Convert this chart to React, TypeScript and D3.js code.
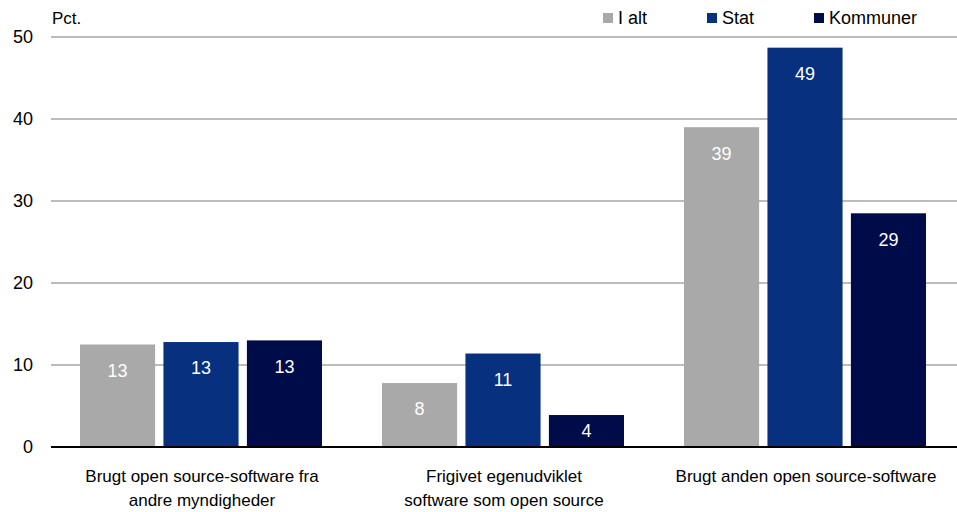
import React, { useEffect, useRef } from 'react';
import * as d3 from 'd3';

// Chart data
const categories = [
  ['Brugt open source-software fra', 'andre myndigheder'],
  ['Frigivet egenudviklet', 'software som open source'],
  ['Brugt anden open source-software'],
];
const seriesNames = ['I alt', 'Stat', 'Kommuner'];
const iAlt = [12.5, 7.8, 39.0];
const stat = [12.8, 11.4, 48.7];
const kommuner = [13.0, 3.9, 28.5];
const yTicks = [0, 10, 20, 30, 40, 50];
const colors = ['#A9A9A9', '#07307F', '#000C4A'];

const W = 957;
const H = 512;
const FONT = '"Liberation Sans", Arial, sans-serif';

const App = () => {
  const ref = useRef<SVGSVGElement | null>(null);

  useEffect(() => {
    if (!ref.current) return;
    const svg = d3.select(ref.current);
    svg.selectAll('*').remove();

    const margin = { top: 37, right: 0, bottom: 65, left: 51 };
    const x0 = d3.scaleBand<number>()
      .domain(d3.range(categories.length))
      .range([margin.left, W - margin.right]);
    const x1 = d3.scaleBand<number>()
      .domain(d3.range(seriesNames.length))
      .range([29, x0.bandwidth() - 31])
      .paddingInner(0.1);
    const y = d3.scaleLinear().domain([0, 50]).range([H - margin.bottom, margin.top]);

    // gridlines
    svg.append('g')
      .selectAll('line')
      .data(yTicks.filter(t => t > 0))
      .join('line')
      .attr('x1', margin.left)
      .attr('x2', W)
      .attr('y1', d => y(d))
      .attr('y2', d => y(d))
      .attr('stroke', '#A6A6A6')
      .attr('stroke-width', 1.5);

    // y tick labels
    svg.append('g')
      .selectAll('text')
      .data(yTicks)
      .join('text')
      .attr('x', 33)
      .attr('y', d => y(d))
      .attr('dy', '0.35em')
      .attr('text-anchor', 'end')
      .attr('font-size', 18)
      .attr('fill', '#000')
      .text(d => d);

    svg.append('text')
      .attr('x', 52)
      .attr('y', 24)
      .attr('font-size', 17)
      .text('Pct.');

    const series = [iAlt, stat, kommuner];
    const base = y(0);

    series.forEach((vals, si) => {
      const g = svg.append('g');
      g.selectAll('rect')
        .data(vals)
        .join('rect')
        .attr('x', (_, i) => x0(i)! + x1(si)!)
        .attr('y', d => y(d))
        .attr('width', x1.bandwidth())
        .attr('height', d => base - y(d))
        .attr('fill', colors[si]);
      g.selectAll('text')
        .data(vals)
        .join('text')
        .attr('x', (_, i) => x0(i)! + x1(si)! + x1.bandwidth() / 2)
        .attr('y', d => Math.min(y(d) + 26, (y(d) + base) / 2))
        .attr('dy', '0.35em')
        .attr('text-anchor', 'middle')
        .attr('font-size', 18)
        .attr('fill', '#fff')
        .text(d => Math.round(d));
    });

    // baseline
    svg.append('line')
      .attr('x1', margin.left)
      .attr('x2', W)
      .attr('y1', base)
      .attr('y2', base)
      .attr('stroke', '#000')
      .attr('stroke-width', 2);

    // category labels
    const cat = svg.append('g');
    categories.forEach((lines, i) => {
      const cx = x0(i)! + x0.bandwidth() / 2;
      const t = cat.append('text')
        .attr('x', cx)
        .attr('y', 482)
        .attr('text-anchor', 'middle')
        .attr('font-size', 17);
      lines.forEach((l, li) => {
        t.append('tspan')
          .attr('x', cx)
          .attr('dy', li === 0 ? 0 : 24)
          .text(l);
      });
    });

    // legend
    const legendX = [603, 707, 814];
    const lg = svg.append('g');
    seriesNames.forEach((name, i) => {
      lg.append('rect')
        .attr('x', legendX[i])
        .attr('y', 13)
        .attr('width', 10)
        .attr('height', 10)
        .attr('fill', colors[i]);
      lg.append('text')
        .attr('x', legendX[i] + 15)
        .attr('y', 24)
        .attr('font-size', 18)
        .text(name);
    });
  }, []);

  return (
    <div style={{ position: 'absolute', left: 0, top: 0 }}>
      <svg
        ref={ref}
        width={W}
        height={H}
        style={{ fontFamily: FONT, display: 'block', background: '#fff' }}
      />
    </div>
  );
};

export default App;
